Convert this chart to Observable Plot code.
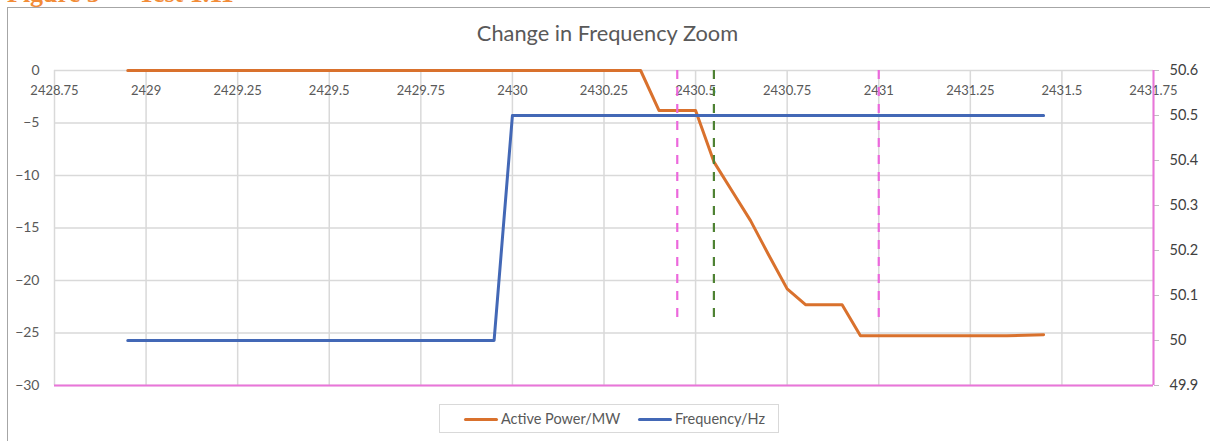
<!DOCTYPE html>
<html>
<head>
<meta charset="utf-8">
<script src="https://cdn.jsdelivr.net/npm/d3@7"></script>
<script src="https://cdn.jsdelivr.net/npm/@observablehq/plot@0.6"></script>
<style>
  html, body { margin: 0; padding: 0; background: #fff; overflow: hidden; }
  body { width: 1210px; height: 441px; position: relative; font-family: Lato, "Open Sans", sans-serif; }
  #header { position: absolute; left: 7px; top: -19px; font-family: "Liberation Serif", serif; font-weight: bold; font-size: 26px; line-height: 26px; color: #F28C38; white-space: pre; }
  #header .t2 { position: absolute; left: 131px; top: 0; }
  #frame { position: absolute; left: 7px; top: 7px; width: 1220px; height: 450px; border: 1px solid #a6a6a6; box-sizing: border-box; }
  #title { position: absolute; left: 0; width: 1215px; top: 22px; text-align: center; font-size: 21.8px; line-height: 21.8px; color: #595959; }
  #chart { position: absolute; left: 0; top: 0; }
  #legend { position: absolute; left: 439px; top: 404px; width: 340px; height: 29px; border: 1px solid #d9d9d9; box-sizing: border-box; }
  .item { position: absolute; top: 5px; font-size: 14.5px; line-height: 18px; color: #595959; white-space: nowrap; }
  .sw { display: inline-block; width: 34px; height: 3px; border-radius: 2px; vertical-align: middle; margin-right: 3px; position: relative; top: -1px; }
</style>
</head>
<body>
<div id="frame"></div>
<div id="chart"></div>
<div id="header">Figure 5 –<span class="t2">Test 1.11</span></div>
<div id="title">Change in Frequency Zoom</div>
<div id="legend"></div>
<script>
// ---- data ----
const powerTime = [2428.95, 2430.35, 2430.40, 2430.45, 2430.50, 2430.55, 2430.60, 2430.65, 2430.70, 2430.75, 2430.80, 2430.85, 2430.90, 2430.95, 2431.35, 2431.45];
const powerMW   = [0, 0, -3.8, -3.8, -3.8, -8.7, -11.5, -14.3, -17.6, -20.8, -22.3, -22.3, -22.3, -25.26, -25.26, -25.16];

const freqTime = [2428.95, 2429.95, 2430.00, 2431.45];
const freqHz   = [50.0, 50.0, 50.5, 50.5];

const pinkMarkers  = [2430.45, 2431.0];
const greenMarkers = [2430.55];

const xTicks    = [2428.75, 2429, 2429.25, 2429.5, 2429.75, 2430, 2430.25, 2430.5, 2430.75, 2431, 2431.25, 2431.5, 2431.75];
const yTicks    = [0, -5, -10, -15, -20, -25, -30];
const freqTicks = [49.9, 50.0, 50.1, 50.2, 50.3, 50.4, 50.5, 50.6];

const seriesNames = ["Active Power/MW", "Frequency/Hz"];
const seriesColors = ["#D9712D", "#4368B6"];

// secondary axis [49.9, 50.6] mapped onto primary [-30, 0]
const fMin = 49.9, fMax = 50.6, pMin = -30, pMax = 0;
const toPrimary = f => pMin + (f - fMin) * (pMax - pMin) / (fMax - fMin);
const toFreq = p => fMin + (p - pMin) * (fMax - fMin) / (pMax - pMin);

const power = powerTime.map((t, i) => ({t, v: powerMW[i]}));
const freq = freqTime.map((t, i) => ({t, v: toPrimary(freqHz[i])}));

const pink = "#E975D9";
const chart = Plot.plot({
  width: 1210,
  height: 441,
  marginLeft: 54,
  marginRight: 57,
  marginTop: 70,
  marginBottom: 56,
  style: {fontFamily: "Lato, 'Open Sans', sans-serif", background: "transparent"},
  x: {domain: [2428.75, 2431.75]},
  y: {domain: [-30, 0]},
  marks: [
    Plot.gridX(xTicks, {stroke: "#d9d9d9", strokeOpacity: 1, strokeWidth: 1.5}),
    Plot.gridY(yTicks, {stroke: "#d9d9d9", strokeOpacity: 1, strokeWidth: 1.5}),
    Plot.axisY(yTicks, {anchor: "left", tickSize: 0, tickPadding: 15, fontSize: 14, fill: "#595959", label: null}),
    Plot.axisX(xTicks, {anchor: "top", tickSize: 0, tickPadding: -24, fontSize: 13, fill: "#595959", label: null, tickFormat: d => String(d)}),
    Plot.axisY(freqTicks.map(toPrimary), {anchor: "right", tickSize: 5, tickPadding: 11, stroke: "#bfbfbf", fontSize: 14.5, fill: "#404040", label: null, tickFormat: d => String(+toFreq(d).toFixed(1))}),
    Plot.ruleY([-30], {stroke: pink, strokeWidth: 2}),
    Plot.ruleX([2431.75], {stroke: pink, strokeWidth: 2}),
    Plot.line(power, {x: "t", y: "v", stroke: seriesColors[0], strokeWidth: 3, strokeLinejoin: "round", strokeLinecap: "round"}),
    Plot.line(freq, {x: "t", y: "v", stroke: seriesColors[1], strokeWidth: 3, strokeLinejoin: "round", strokeLinecap: "round"}),
    Plot.ruleX(pinkMarkers, {y1: 0, y2: -24, stroke: "#EC68DC", strokeWidth: 2.2, strokeDasharray: "9,8"}),
    Plot.ruleX(greenMarkers, {y1: 0, y2: -24, stroke: "#4E8233", strokeWidth: 2.2, strokeDasharray: "9,8"})
  ]
});
document.getElementById("chart").appendChild(chart);

// legend
const legend = document.getElementById("legend");
const lefts = [24, 198];
seriesNames.forEach((name, i) => {
  const d = document.createElement("div");
  d.className = "item";
  d.style.left = lefts[i] + "px";
  const sw = document.createElement("span");
  sw.className = "sw";
  sw.style.background = seriesColors[i];
  d.appendChild(sw);
  d.appendChild(document.createTextNode(name));
  legend.appendChild(d);
});
</script>
</body>
</html>
